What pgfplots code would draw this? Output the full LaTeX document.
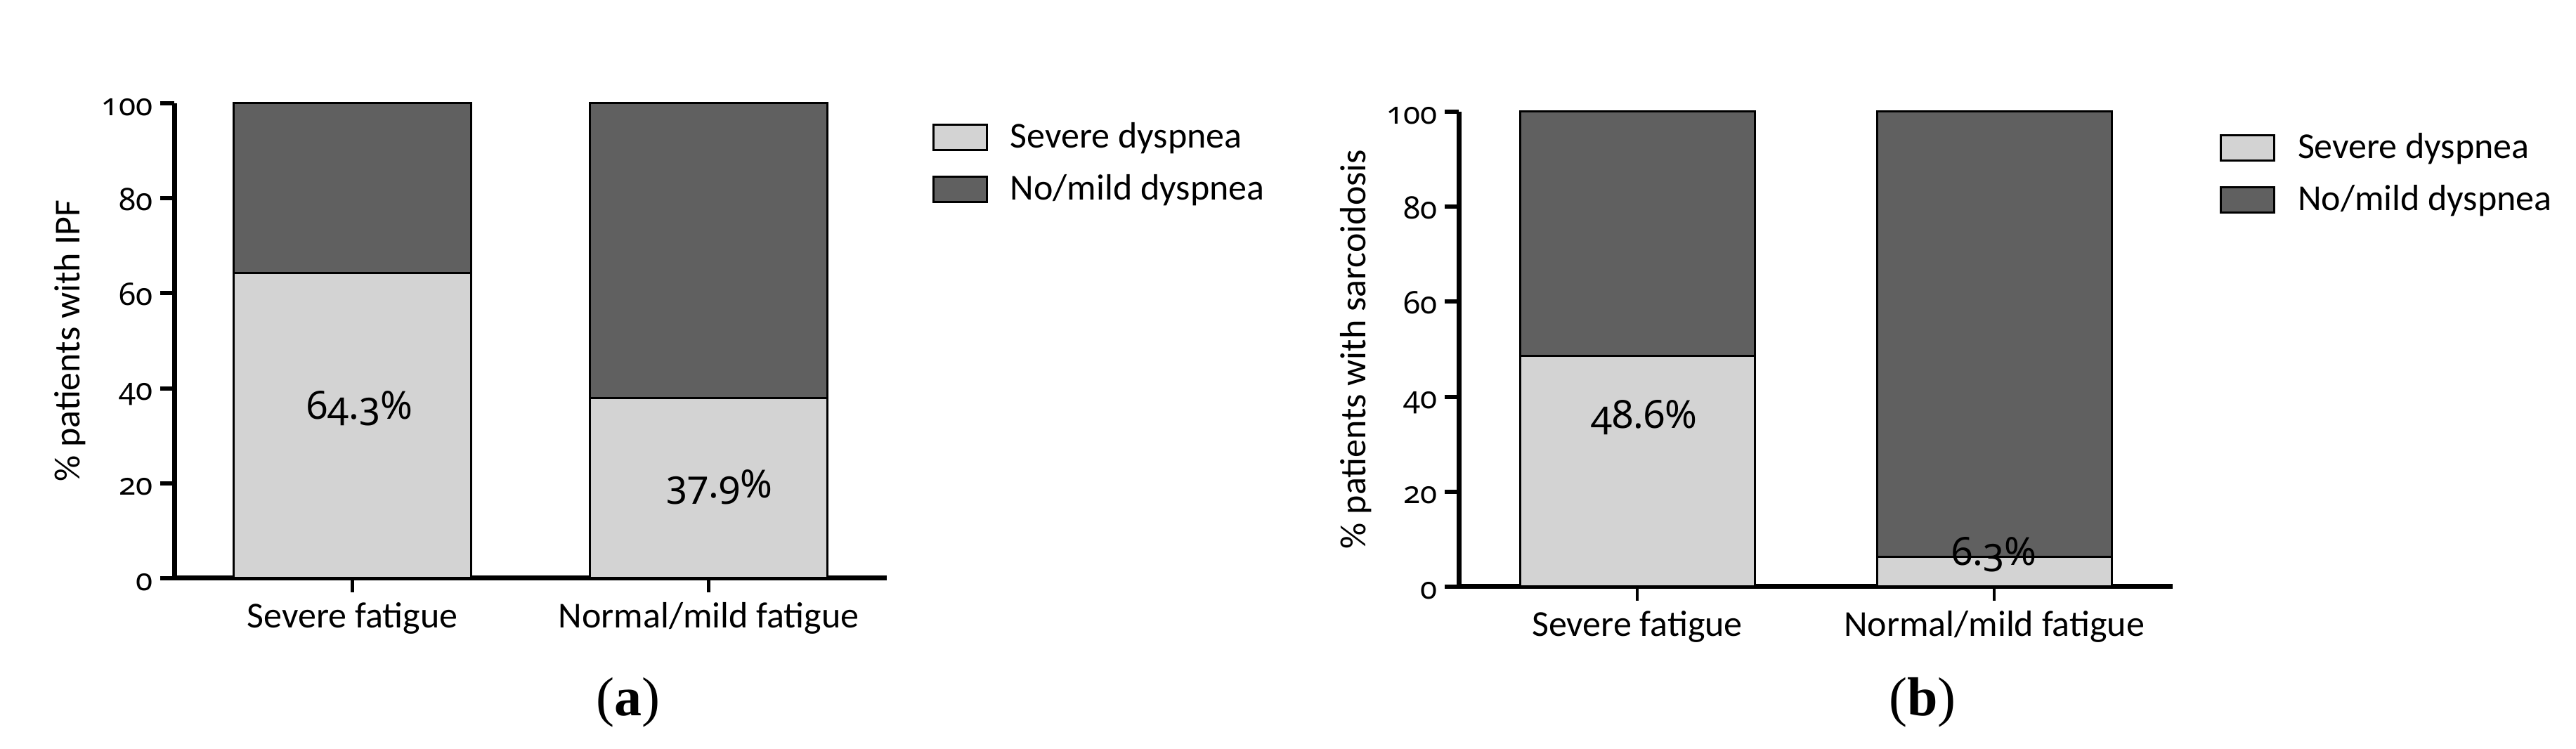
\documentclass[border=0pt]{standalone}
\usepackage{fontspec}
\setmainfont{Carlito}
\newfontfamily\numfont{Noto Sans}[Numbers=OldStyle]
\newfontfamily\capfont{Liberation Serif}
\usepackage{pgfplots}
\pgfplotsset{compat=1.18}
\definecolor{lightbar}{HTML}{D3D3D3}
\definecolor{darkbar}{HTML}{606060}
\pgfplotsset{
  panel/.style={
    scale only axis,
    axis x line*=bottom,
    axis y line*=left,
    axis line style={-, line width=1.75pt},
    ymin=0, ymax=100,
    ytick={0,20,40,60,80,100},
    xmin=-0.5, xmax=1.5,
    xtick={0,1},
    xticklabels={Severe fatigue, Normal/mild fatigue},
    tick align=outside,
    major tick length=5pt,
    tick style={line width=1.5pt, black},
    x tick style={line width=1.2pt},
    /pgf/number format/assume math mode=true,
    font=\fontsize{13}{15.6}\selectfont,
    xticklabel style={font=\fontsize{13}{15.6}\selectfont},
    yticklabel style={font=\numfont\fontsize{11}{13}\selectfont, anchor=base east, yshift=-4.3pt, inner xsep=2.5pt},
    label style={font=\fontsize{13}{15.6}\selectfont},
    ybar stacked,
    clip=false,
    legend cell align=left,
    legend image code/.code={\draw[#1, line width=0.8pt] (0pt,-4.5pt) rectangle (19pt,4.5pt);},
    every axis legend/.append style={draw=none, fill=none, inner sep=0pt, anchor=north west,
      font=\fontsize{13}{15.6}\selectfont, column sep=6pt, row sep=4pt},
  },
}
\begin{document}
\begin{tikzpicture}
\path[use as bounding box] (0pt,0pt) rectangle (916.5pt,266.5pt);
% Panel (a)
\begin{axis}[panel,
  at={(62pt,60.75pt)}, anchor=south west,
  width=253.5pt, height=169pt,
  bar width=84.25pt,
  ylabel={\% patients with IPF},
  ylabel style={at={(axis description cs:-0.146,0.5)}, anchor=center},
  legend style={at={(axis description cs:1.063,0.972)}},
]
\addplot+[fill=lightbar, draw=black, line width=0.75pt] coordinates {(0,64.3) (1,37.9)};
\addplot+[fill=darkbar, draw=black, line width=0.75pt] coordinates {(0,35.7) (1,62.1)};
\legend{Severe dyspnea, No/mild dyspnea}
\coordinate (la1) at (axis cs:0.02,35.8);
\coordinate (la2) at (axis cs:1.03,19.2);
\end{axis}
% Panel (b)
\begin{axis}[panel,
  at={(519pt,57.75pt)}, anchor=south west,
  width=254pt, height=169pt,
  bar width=83.5pt,
  ylabel={\% patients with sarcoidosis},
  ylabel style={at={(axis description cs:-0.1437,0.5)}, anchor=center},
  legend style={at={(axis description cs:1.065,0.968)}},
]
\addplot+[fill=lightbar, draw=black, line width=0.75pt] coordinates {(0,48.6) (1,6.3)};
\addplot+[fill=darkbar, draw=black, line width=0.75pt] coordinates {(0,51.4) (1,93.7)};
\legend{Severe dyspnea, No/mild dyspnea}
\coordinate (lb1) at (axis cs:0.02,35.7);
\coordinate (lb2) at (axis cs:1,6.7);
\end{axis}
\begin{scope}[every node/.style={font=\numfont\fontsize{13.8}{16}\selectfont}]
\node at (la1) {64.3\%};
\node at (la2) {37.9\%};
\node at (lb1) {48.6\%};
\node at (lb2) {6.3\%};
\end{scope}
\node[font=\capfont\fontsize{19.5}{22}\selectfont] at (223.5pt,16.5pt) {(\textbf{a})};
\node[font=\capfont\fontsize{19.5}{22}\selectfont] at (684pt,16.5pt) {(\textbf{b})};
\end{tikzpicture}
\end{document}
